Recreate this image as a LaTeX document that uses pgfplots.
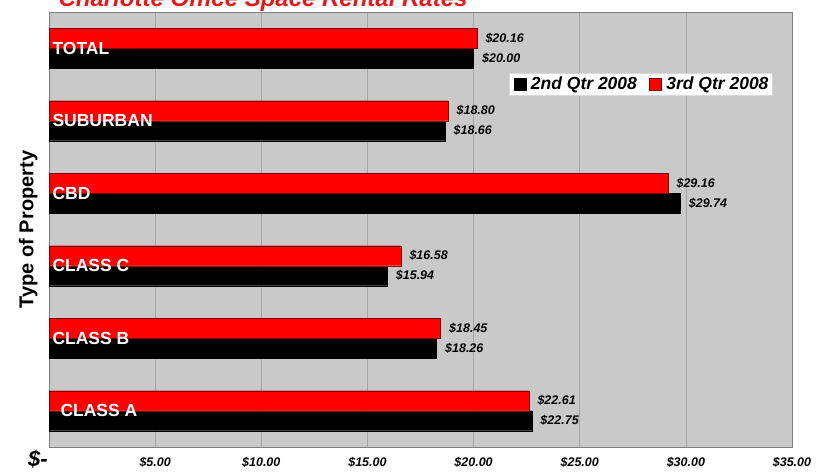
\documentclass[border=0pt]{standalone}
\usepackage{pgfplots}
\pgfplotsset{compat=1.18}
\usepackage{fontspec}
\setmainfont{Liberation Sans}
\definecolor{bggray}{RGB}{201,201,201}
\definecolor{gridgray}{RGB}{165,165,165}
\definecolor{barred}{RGB}{255,0,0}
\definecolor{redborder}{RGB}{130,0,0}
\definecolor{titlered}{RGB}{230,25,25}
\begin{document}
\begin{tikzpicture}[x=1pt,y=1pt]
\begin{axis}[
  set layers,
  at={(49pt,26pt)}, anchor=south west,
  scale only axis, width=743pt, height=435pt,
  xbar, bar width=20pt,
  xmin=0, xmax=35, ymin=-0.5, ymax=5.5,
  axis background/.style={fill=bggray},
  axis line style={draw=gray},
  xmajorgrids, grid style={gridgray, line width=0.6pt},
  major tick length=0pt,
  xtick={0,5,...,35},
  xticklabels={{\fontsize{22}{22}\selectfont\$-\hspace*{22pt}},\$5.00,\$10.00,\$15.00,\$20.00,\$25.00,\$30.00,\$35.00},
  xticklabel style={font=\bfseries\itshape\fontsize{12.5}{12.5}\selectfont, anchor=base, yshift=-20pt},
  ytick={0,1,2,3,4,5},
  yticklabels={{\hspace*{8pt}CLASS A},CLASS B,CLASS C,CBD,SUBURBAN,TOTAL},
  yticklabel style={/pgfplots/on layer=axis foreground, anchor=west, xshift=0pt, text=white, font=\bfseries\fontsize{17.5}{17.5}\selectfont},
  ylabel={Type of Property},
  ylabel style={at={(axis description cs:-0.028,0.5)}, anchor=center, font=\bfseries\fontsize{20}{20}\selectfont},
  point meta=x,
  nodes near coords={\$\pgfmathprintnumber[fixed,fixed zerofill,precision=2]{\pgfplotspointmeta}},
  nodes near coords style={font=\bfseries\itshape\fontsize{12.5}{12.5}\selectfont, anchor=west, xshift=5pt, text=black},
  /pgf/number format/assume math mode=true,
  legend columns=2,
  legend style={at={(0.974,0.86)}, anchor=north east, fill=white, draw=white!85!black,
    font=\bfseries\itshape\fontsize{17.5}{17.5}\selectfont, inner sep=2pt,
    /tikz/every even column/.append style={column sep=8pt}},
  legend image code/.code={\draw[#1] (0pt,-6pt) rectangle (12pt,6pt); \path (-2pt,0pt) (15pt,0pt);},
]
\addplot[fill=black, draw=black, bar shift=-10pt] coordinates {(22.75,0) (18.26,1) (15.94,2) (29.74,3) (18.66,4) (20.00,5)};
\addlegendentry{2nd Qtr 2008}
\addplot[fill=barred, draw=redborder, bar shift=10pt] coordinates {(22.61,0) (18.45,1) (16.58,2) (29.16,3) (18.80,4) (20.16,5)};
\addlegendentry{3rd Qtr 2008}
\end{axis}
\node[anchor=base west, text=titlered, font=\bfseries\itshape\fontsize{24}{24}\selectfont] at (55,466) {Charlotte Office Space Rental Rates};
\pgfresetboundingbox
\useasboundingbox (0,0) rectangle (826,473);
\end{tikzpicture}
\end{document}
